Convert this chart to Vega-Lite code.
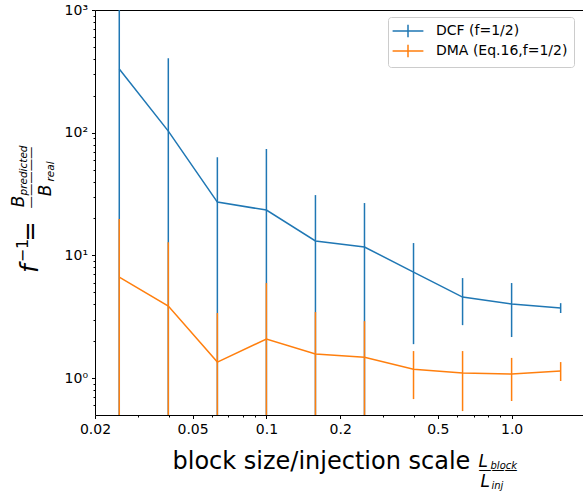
{
  "$schema": "https://vega.github.io/schema/vega-lite/v6.json",
  "width": 488,
  "height": 405,
  "autosize": {"type": "none"},
  "padding": {"left": 95, "top": 10, "right": 0, "bottom": 76},
  "config": {
    "view": {"stroke": null},
    "axis": {
      "grid": false,
      "labelFont": "DejaVu Sans",
      "labelFontSize": 14,
      "labelColor": "#000000",
      "labelPadding": 4,
      "labelFlush": false,
      "labelOverlap": false,
      "tickColor": "#000000",
      "tickWidth": 1,
      "domainColor": "#000000",
      "domainWidth": 1,
      "titleFont": "DejaVu Sans",
      "titleFontWeight": "normal",
      "titleColor": "#000000"
    },
    "legend": {
      "labelFont": "DejaVu Sans",
      "labelFontSize": 14,
      "labelColor": "#000000"
    }
  },
  "data": {
    "values": [
      {"s": "DCF (f=1/2)", "x": 0.02512, "y": 330, "lo": 0.3, "hi": 1200},
      {"s": "DCF (f=1/2)", "x": 0.03981, "y": 103, "lo": 0.3, "hi": 405},
      {"s": "DCF (f=1/2)", "x": 0.0631, "y": 27.2, "lo": 0.3, "hi": 63.2},
      {"s": "DCF (f=1/2)", "x": 0.1, "y": 23.4, "lo": 0.3, "hi": 73.5},
      {"s": "DCF (f=1/2)", "x": 0.1585, "y": 13.1, "lo": 0.3, "hi": 31},
      {"s": "DCF (f=1/2)", "x": 0.2512, "y": 11.7, "lo": 0.3, "hi": 26.7},
      {"s": "DCF (f=1/2)", "x": 0.3981, "y": 7.31, "lo": 1.89, "hi": 12.6},
      {"s": "DCF (f=1/2)", "x": 0.631, "y": 4.57, "lo": 2.7, "hi": 6.53},
      {"s": "DCF (f=1/2)", "x": 1.0, "y": 4.01, "lo": 2.16, "hi": 5.95},
      {"s": "DCF (f=1/2)", "x": 1.585, "y": 3.72, "lo": 3.39, "hi": 4.08},
      {"s": "DMA (Eq.16,f=1/2)", "x": 0.02512, "y": 6.65, "lo": 0.3, "hi": 19.8},
      {"s": "DMA (Eq.16,f=1/2)", "x": 0.03981, "y": 3.86, "lo": 0.3, "hi": 12.8},
      {"s": "DMA (Eq.16,f=1/2)", "x": 0.0631, "y": 1.35, "lo": 0.3, "hi": 3.39},
      {"s": "DMA (Eq.16,f=1/2)", "x": 0.1, "y": 2.08, "lo": 0.3, "hi": 5.95},
      {"s": "DMA (Eq.16,f=1/2)", "x": 0.1585, "y": 1.57, "lo": 0.3, "hi": 3.45},
      {"s": "DMA (Eq.16,f=1/2)", "x": 0.2512, "y": 1.48, "lo": 0.3, "hi": 2.91},
      {"s": "DMA (Eq.16,f=1/2)", "x": 0.3981, "y": 1.18, "lo": 0.674, "hi": 1.66},
      {"s": "DMA (Eq.16,f=1/2)", "x": 0.631, "y": 1.1, "lo": 0.538, "hi": 1.66},
      {"s": "DMA (Eq.16,f=1/2)", "x": 1.0, "y": 1.08, "lo": 0.65, "hi": 1.46},
      {"s": "DMA (Eq.16,f=1/2)", "x": 1.585, "y": 1.14, "lo": 0.946, "hi": 1.35}
    ]
  },
  "layer": [
    {
      "transform": [{"filter": "datum.s === 'DCF (f=1/2)'"}],
      "mark": {"type": "rule", "strokeWidth": 1.5, "color": "#1f77b4", "clip": true},
      "encoding": {
        "x": {"field": "x", "type": "quantitative",
              "scale": {"type": "log", "domain": [0.02, 1.955], "nice": false},
              "axis": {"orient": "bottom", "values": [0.02, 0.05, 0.1, 0.2, 0.5, 1],
                       "labelExpr": "datum.value > 0.9 ? '1.0' : format(datum.value, '~g')",
                       "tickSize": 3.5, "title": null}},
        "y": {"field": "lo", "type": "quantitative",
              "scale": {"type": "log", "domain": [0.5, 1000], "nice": false},
              "axis": {"orient": "left", "values": [1, 10, 100, 1000],
                       "labelExpr": "datum.value < 5 ? '10⁰' : datum.value < 50 ? '10¹' : datum.value < 500 ? '10²' : '10³'",
                       "tickSize": 3.5, "title": null}},
        "y2": {"field": "hi"}
      }
    },
    {
      "transform": [{"filter": "datum.s === 'DCF (f=1/2)'"}],
      "mark": {"type": "line", "strokeWidth": 1.5, "clip": true},
      "encoding": {
        "x": {"field": "x", "type": "quantitative",
              "axis": {"orient": "bottom", "values": [0.03, 0.04, 0.06, 0.07, 0.08, 0.09, 0.3, 0.4, 0.6, 0.7, 0.8, 0.9],
                       "labels": false, "domain": false, "tickSize": 2, "title": null}},
        "y": {"field": "y", "type": "quantitative",
              "axis": {"orient": "left", "values": [0.6, 0.7, 0.8, 0.9, 2, 3, 4, 5, 6, 7, 8, 9, 20, 30, 40, 50, 60, 70, 80, 90, 200, 300, 400, 500, 600, 700, 800, 900],
                       "labels": false, "domain": false, "tickSize": 2, "title": null}},
        "color": {"field": "s", "type": "nominal",
                  "scale": {"domain": ["DCF (f=1/2)", "DMA (Eq.16,f=1/2)"], "range": ["#1f77b4", "#ff7f0e"]},
                  "legend": {"orient": "none", "legendX": 293, "legendY": 7, "title": null,
                             "symbolType": "M-2.2,0H2.2M0,-0.9V0.9", "symbolSize": 196, "symbolStrokeWidth": 1.5,
                             "padding": 6, "rowPadding": 0, "labelOffset": 20, "symbolOffset": 6,
                             "strokeColor": "#cccccc", "fillColor": "rgba(255,255,255,0.8)", "cornerRadius": 3}}
      }
    },
    {
      "transform": [{"filter": "datum.s === 'DMA (Eq.16,f=1/2)'"}],
      "mark": {"type": "rule", "strokeWidth": 1.5, "color": "#ff7f0e", "clip": true},
      "encoding": {
        "x": {"field": "x", "type": "quantitative",
              "axis": {"orient": "top", "domain": true, "ticks": false, "labels": false, "title": null}},
        "y": {"field": "lo", "type": "quantitative",
              "axis": {"orient": "left", "domain": false, "ticks": false, "labels": false,
                       "title": "f", "titleX": -58, "titleY": 258, "titleAngle": -90,
                       "titleAlign": "center", "titleBaseline": "alphabetic",
                       "titleFontSize": 24, "titleFontStyle": "italic"}},
        "y2": {"field": "hi"}
      }
    },
    {
      "transform": [{"filter": "datum.s === 'DMA (Eq.16,f=1/2)'"}],
      "mark": {"type": "line", "strokeWidth": 1.5, "clip": true},
      "encoding": {
        "x": {"field": "x", "type": "quantitative",
              "axis": {"orient": "bottom", "domain": false, "ticks": false, "labels": false,
                       "title": "block size/injection scale", "titleX": 77, "titleY": 53,
                       "titleAlign": "left", "titleBaseline": "alphabetic", "titleFontSize": 24}},
        "y": {"field": "y", "type": "quantitative",
              "axis": {"orient": "left", "domain": false, "ticks": false, "labels": false,
                       "title": "−1", "titleX": -68, "titleY": 240, "titleAngle": -90,
                       "titleAlign": "center", "titleBaseline": "alphabetic", "titleFontSize": 16}},
        "color": {"field": "s", "type": "nominal",
                  "scale": {"domain": ["DCF (f=1/2)", "DMA (Eq.16,f=1/2)"], "range": ["#1f77b4", "#ff7f0e"]},
                  "legend": {"orient": "none", "legendX": 293, "legendY": 7, "title": null,
                             "symbolType": "M-2.2,0H2.2M0,-0.9V0.9", "symbolSize": 196, "symbolStrokeWidth": 1.5,
                             "padding": 6, "rowPadding": 0, "labelOffset": 20, "symbolOffset": 6,
                             "strokeColor": "#cccccc", "fillColor": "rgba(255,255,255,0.8)", "cornerRadius": 3}}
      }
    },
    {
      "mark": {"type": "point", "opacity": 0},
      "encoding": {
        "x": {"field": "x", "type": "quantitative",
              "axis": {"orient": "bottom", "domain": false, "ticks": false, "labels": false,
                       "title": "L", "titleX": 383, "titleY": 51,
                       "titleAlign": "left", "titleBaseline": "alphabetic", "titleFontSize": 17, "titleFontStyle": "italic"}},
        "y": {"field": "y", "type": "quantitative",
              "axis": {"orient": "left", "domain": false, "ticks": false, "labels": false,
                       "title": "=", "titleX": -58, "titleY": 221, "titleAngle": -90,
                       "titleAlign": "center", "titleBaseline": "alphabetic", "titleFontSize": 24}}
      }
    },
    {
      "mark": {"type": "point", "opacity": 0},
      "encoding": {
        "x": {"field": "x", "type": "quantitative",
              "axis": {"orient": "bottom", "domain": false, "ticks": false, "labels": false,
                       "title": "block", "titleX": 395, "titleY": 53,
                       "titleAlign": "left", "titleBaseline": "alphabetic", "titleFontSize": 10, "titleFontStyle": "italic"}},
        "y": {"field": "y", "type": "quantitative",
              "axis": {"orient": "left", "domain": false, "ticks": false, "labels": false,
                       "title": "—————", "titleX": -60.5, "titleY": 167, "titleAngle": -90,
                       "titleAlign": "center", "titleBaseline": "alphabetic", "titleFontSize": 12.4}}
      }
    },
    {
      "mark": {"type": "point", "opacity": 0},
      "encoding": {
        "x": {"field": "x", "type": "quantitative",
              "axis": {"orient": "bottom", "domain": false, "ticks": false, "labels": false,
                       "title": "———", "titleX": 383, "titleY": 58.8,
                       "titleAlign": "left", "titleBaseline": "alphabetic", "titleFontSize": 13}},
        "y": {"field": "y", "type": "quantitative",
              "axis": {"orient": "left", "domain": false, "ticks": false, "labels": false,
                       "title": "B", "titleX": -72, "titleY": 191, "titleAngle": -90,
                       "titleAlign": "center", "titleBaseline": "alphabetic", "titleFontSize": 17, "titleFontStyle": "italic"}}
      }
    },
    {
      "mark": {"type": "point", "opacity": 0},
      "encoding": {
        "x": {"field": "x", "type": "quantitative",
              "axis": {"orient": "bottom", "domain": false, "ticks": false, "labels": false,
                       "title": "L", "titleX": 385, "titleY": 71,
                       "titleAlign": "left", "titleBaseline": "alphabetic", "titleFontSize": 17, "titleFontStyle": "italic"}},
        "y": {"field": "y", "type": "quantitative",
              "axis": {"orient": "left", "domain": false, "ticks": false, "labels": false,
                       "title": "predicted", "titleX": -69, "titleY": 160, "titleAngle": -90,
                       "titleAlign": "center", "titleBaseline": "alphabetic", "titleFontSize": 10.5, "titleFontStyle": "italic"}}
      }
    },
    {
      "mark": {"type": "point", "opacity": 0},
      "encoding": {
        "x": {"field": "x", "type": "quantitative",
              "axis": {"orient": "bottom", "domain": false, "ticks": false, "labels": false,
                       "title": "inj", "titleX": 396, "titleY": 73,
                       "titleAlign": "left", "titleBaseline": "alphabetic", "titleFontSize": 10, "titleFontStyle": "italic"}},
        "y": {"field": "y", "type": "quantitative",
              "axis": {"orient": "left", "domain": false, "ticks": false, "labels": false,
                       "title": "B", "titleX": -45, "titleY": 180, "titleAngle": -90,
                       "titleAlign": "center", "titleBaseline": "alphabetic", "titleFontSize": 17, "titleFontStyle": "italic"}}
      }
    },
    {
      "mark": {"type": "point", "opacity": 0},
      "encoding": {
        "x": {"field": "x", "type": "quantitative", "axis": null},
        "y": {"field": "y", "type": "quantitative",
              "axis": {"orient": "left", "domain": false, "ticks": false, "labels": false,
                       "title": "real", "titleX": -42, "titleY": 161, "titleAngle": -90,
                       "titleAlign": "center", "titleBaseline": "alphabetic", "titleFontSize": 10.5, "titleFontStyle": "italic"}}
      }
    }
  ],
  "resolve": {"axis": {"x": "independent", "y": "independent"}}
}
